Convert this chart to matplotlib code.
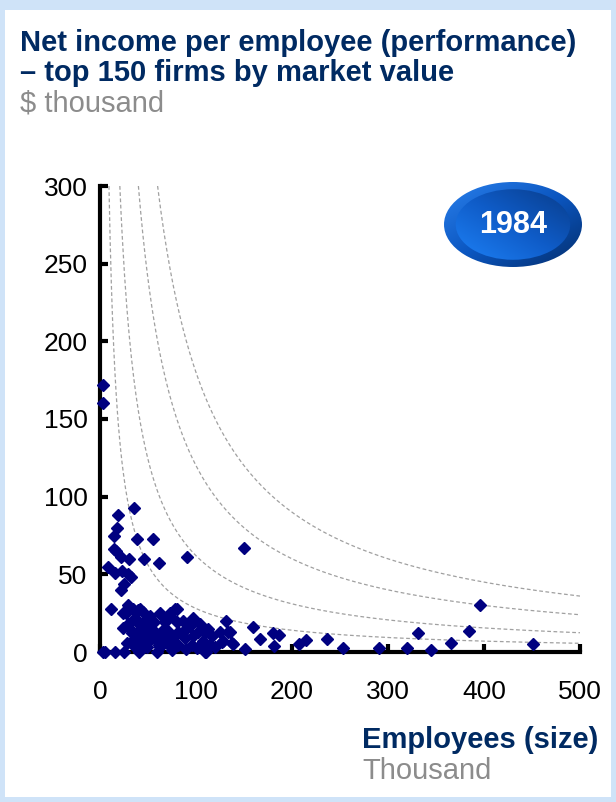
import numpy as np
import matplotlib
matplotlib.use("Agg")
import matplotlib.pyplot as plt
from matplotlib.patches import Ellipse, Rectangle
from matplotlib.colors import LinearSegmentedColormap

# ---------------- data ----------------
employees = [3, 3,
             35, 19, 18, 15, 39, 55, 15, 17, 22, 30, 46, 61, 8, 16, 23, 29, 32, 25, 22, 91, 150,
             396, 384, 331, 291, 320, 345, 366, 451,
             159, 167, 180, 186, 181, 207, 215, 236, 253, 151, 139, 135, 131, 125, 128, 97, 109,
             11, 29, 34, 40, 45, 27, 49, 36, 29, 24, 44, 52, 55, 33, 40, 47, 59, 36, 50, 44, 65, 61, 49,
             3, 5, 16, 25, 41, 59, 110,
             78, 73, 64, 68, 80, 94, 91, 70, 81, 102, 109, 133, 64, 75, 89, 97, 117, 107, 127, 138,
             70, 81, 96, 115, 101, 63,
             42, 24, 80, 62, 73, 52,
             38, 31, 56, 58, 85, 120, 90, 75, 53, 42, 66, 35, 28, 86, 104, 112]
income_per_emp = [172, 160,
                  93, 88, 80, 75, 73, 73, 66, 65, 61, 60, 60, 57, 55, 51, 52, 50, 48, 44, 40, 61, 67,
                  30, 13.5, 12, 2.5, 2.5, 1, 6, 5,
                  16, 8.4, 12.4, 11, 3.9, 5, 7.7, 8.4, 2.5, 2, 5, 13, 20, 13, 7, 22, 0,
                  28, 30, 28, 27, 26, 25, 21, 22, 18, 15.5, 16, 17, 14, 12, 13, 11, 10, 9, 6.4, 5.8, 6.4, 4.5, 3,
                  0, 0, 0, 0, 0, 0, 0,
                  28, 25, 24, 19, 19, 17, 15.5, 14, 13, 13, 12, 13, 10, 9, 9, 10, 10, 7, 6.4, 5.8,
                  5.8, 4.5, 4.5, 4.5, 2.6, 3,
                  28, 25, 28, 25, 23, 23,
                  20, 15, 19, 8, 12, 3, 2, 1, 9, 8, 14, 4, 6, 20, 18, 15]

# iso-net-income curves (employees x income per employee)
curve_levels = [2800, 6200, 12000, 18000]

x_ticks = [0, 100, 200, 300, 400, 500]
y_ticks = [0, 50, 100, 150, 200, 250, 300]

title_lines = ["Net income per employee (performance)", "\u2013 top 150 firms by market value"]
unit_text = "$ thousand"
x_title = "Employees (size)"
x_unit = "Thousand"
badge_text = "1984"

NAVY = "#002a62"
GRAY = "#8c8c8c"
DOT = "#000080"

plt.rcParams['font.family'] = ['Liberation Sans', 'DejaVu Sans']

W, H = 616, 802
fig = plt.figure(figsize=(W / 100, H / 100), dpi=100)
fig.patch.set_facecolor("#cfe3f8")
fig.add_artist(Rectangle((5 / W, 5 / H), (W - 10) / W, (H - 15) / H,
                         transform=fig.transFigure, facecolor="white",
                         edgecolor="none", zorder=0))

# titles
TS = 21
fig.text(20 / W, 1 - 51 / H, title_lines[0], fontsize=TS, fontweight="bold",
         color=NAVY, ha="left", va="baseline")
fig.text(20 / W, 1 - 81 / H, title_lines[1], fontsize=TS, fontweight="bold",
         color=NAVY, ha="left", va="baseline")
fig.text(20 / W, 1 - 112 / H, unit_text, fontsize=TS, color=GRAY,
         ha="left", va="baseline")

# axes
ax = fig.add_axes([100 / W, 1 - 652 / H, 480 / W, 466 / H])
ax.set_xlim(0, 500)
ax.set_ylim(0, 300)
for s in ["top", "right"]:
    ax.spines[s].set_visible(False)
for s in ["left", "bottom"]:
    ax.spines[s].set_linewidth(3)
    ax.spines[s].set_color("black")
ax.set_xticks(x_ticks)
ax.set_yticks(y_ticks)
ax.tick_params(axis="both", direction="in", length=6, width=3, labelsize=19,
               colors="black")
ax.tick_params(axis="x", pad=20)
ax.tick_params(axis="y", pad=9)

for k in curve_levels:
    xs = np.linspace(k / 300.0, 500, 400)
    ax.plot(xs, k / xs, color="#a0a0a0", lw=0.9, ls=(0, (3, 2)), zorder=2)

ax.plot(employees, income_per_emp, ls="none", marker="D", ms=6,
        color=DOT, mec=DOT, clip_on=False, zorder=5)

# x-axis title
fig.text(598 / W, 1 - 748 / H, x_title, fontsize=TS, fontweight="bold",
         color=NAVY, ha="right", va="baseline")
fig.text(362 / W, 1 - 779 / H, x_unit, fontsize=TS, color=GRAY,
         ha="left", va="baseline")

# badge
bx = fig.add_axes([444 / W, 1 - 267 / H, 138 / W, 85 / H])
bx.set_xlim(0, 1)
bx.set_ylim(0, 1)
bx.axis("off")
yy, xx = np.mgrid[0:1:200j, 0:1:200j]
cm_out = LinearSegmentedColormap.from_list("o", ["#2a80ec", "#0b56c0", "#042e6c"])
cm_in = LinearSegmentedColormap.from_list("i", ["#2088ff", "#0f5cc8", "#07367e"])
outer = Ellipse((0.5, 0.5), 1.0, 1.0, transform=bx.transAxes, facecolor="none",
                edgecolor="none")
bx.add_patch(outer)
t_out = np.clip((xx + (1 - yy)) / 2, 0, 1)   # bright top-left -> dark bottom-right
im1 = bx.imshow(t_out, extent=[0, 1, 0, 1], origin="lower", cmap=cm_out,
                aspect="auto", interpolation="bilinear")
im1.set_clip_path(outer)
inner = Ellipse((0.5, 0.5), 0.83, 0.83, transform=bx.transAxes, facecolor="none",
                edgecolor="none")
bx.add_patch(inner)
t_in = np.clip((xx + yy) / 2, 0, 1)           # bright bottom-left -> dark top-right
im2 = bx.imshow(t_in, extent=[0, 1, 0, 1], origin="lower", cmap=cm_in,
                aspect="auto", interpolation="bilinear")
im2.set_clip_path(inner)
bx.text(0.5, 0.5, badge_text, transform=bx.transAxes, ha="center", va="center",
        fontsize=22, fontweight="bold", color="white")

fig.savefig("out.png", dpi=100)
